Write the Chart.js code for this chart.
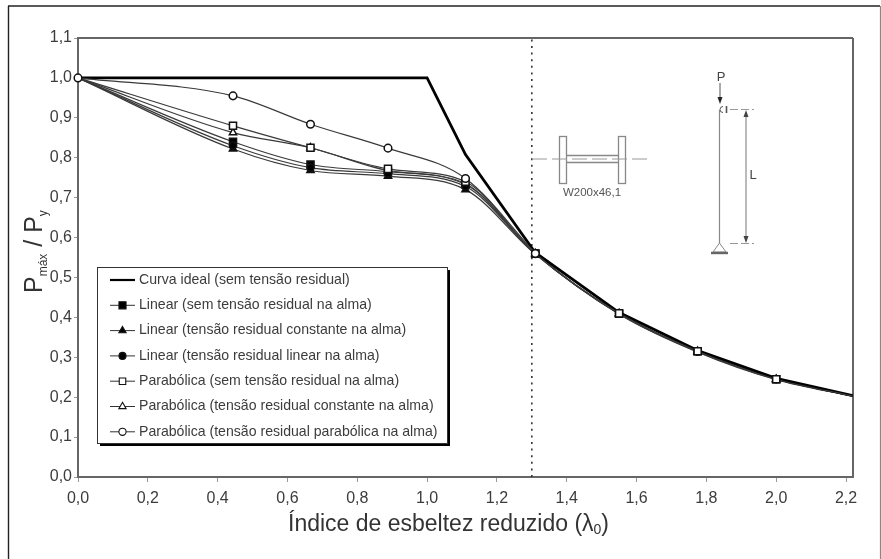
<!DOCTYPE html>
<html><head><meta charset="utf-8">
<style>html,body{margin:0;padding:0;background:#fff}#w{width:881px;height:559px;position:relative}</style>
<script src="https://cdn.jsdelivr.net/npm/chart.js@4/dist/chart.umd.min.js"></script>
</head><body><div id="w"><canvas id="c" width="881" height="559"></canvas></div>
<script>
const xIdeal = [0, 1.0, 1.11, 1.31, 1.55, 1.775, 2.0, 2.22];
const yIdeal = [1, 1, 0.808, 0.562, 0.412, 0.317, 0.247, 0.204];
const xCurves = [0, 0.444, 0.666, 0.888, 1.11, 1.31, 1.55, 1.775, 2.0, 2.22];
const linearNone = [1, 0.84, 0.783, 0.765, 0.733, 0.56, 0.409, 0.315, 0.245, 0.203];
const linearConst = [1, 0.822, 0.768, 0.754, 0.72, 0.558, 0.408, 0.313, 0.244, 0.202];
const linearLin = [1, 0.83, 0.775, 0.76, 0.728, 0.559, 0.409, 0.314, 0.245, 0.203];
const parabNone = [1, 0.88, 0.825, 0.772, 0.74, 0.56, 0.41, 0.315, 0.245, 0.203];
const parabConst = [1, 0.863, 0.825, 0.768, 0.735, 0.56, 0.41, 0.315, 0.245, 0.203];
const parabPar = [1, 0.955, 0.884, 0.824, 0.748, 0.56];
const xDivider = [1.3, 1.3];
const yDivider = [0, 1.1];
const seriesLabels = [
  'Curva ideal (sem tensão residual)',
  'Linear (sem tensão residual na alma)',
  'Linear (tensão residual constante na alma)',
  'Linear (tensão residual linear na alma)',
  'Parabólica (sem tensão residual na alma)',
  'Parabólica (tensão residual constante na alma)',
  'Parabólica (tensão residual parabólica na alma)'
];
const yTitleMain = 'P', yTitleSub1 = 'máx', yTitleSep = ' / ', yTitleSub2 = 'y';
const xTitleMain = 'Índice de esbeltez reduzido (λ', xTitleSub = '0', xTitleEnd = ')';
const sectionLabel = 'W200x46,1', loadLabel = 'P', lengthLabel = 'L';

const FONT = '"Liberation Sans", Arial, sans-serif';
const TXT = '#3c3c3c', LINE = '#3a3a3a';
const pts = (xs, ys) => ys.map((y, i) => ({x: xs[i], y}));
// The source plot shows no marker on the start or on the end of the squares' and triangles' curves.
const curve = (label, ys, style, fill, radius, keepFirst) => ({
  label, data: pts(xCurves, ys), borderColor: LINE, borderWidth: 1.2,
  cubicInterpolationMode: 'monotone', pointStyle: style, clip: false,
  pointRadius: c => ((c.dataIndex === 0 && !keepFirst) || xCurves[c.dataIndex] > 2.2) ? 0 : radius,
  pointBackgroundColor: fill, pointBorderColor: '#111', pointBorderWidth: 1.5
});
// Chart.js paints the first dataset on top
const datasets = [
  curve(seriesLabels[6], parabPar, 'circle', '#fff', 3.8, true),
  curve(seriesLabels[4], parabNone, 'rect', '#fff', 5),
  {label: seriesLabels[0], data: pts(xIdeal, yIdeal), borderColor: '#000', borderWidth: 2.8, pointRadius: 0, tension: 0},
  curve(seriesLabels[5], parabConst, 'triangle', '#fff', 4.2),
  curve(seriesLabels[3], linearLin, 'circle', '#000', 3.5),
  curve(seriesLabels[2], linearConst, 'triangle', '#000', 4.2),
  curve(seriesLabels[1], linearNone, 'rect', '#000', 5),
  {label: 'divider', data: pts(xDivider, yDivider), borderColor: '#333', borderWidth: 1.6, borderDash: [2, 4.6], pointRadius: 0, tension: 0}
];
const legendRows = [
  {s: null},
  {s: 'rect', f: '#000', r: 5},
  {s: 'triangle', f: '#000', r: 4.2},
  {s: 'circle', f: '#000', r: 3.5},
  {s: 'rect', f: '#fff', r: 4.6},
  {s: 'triangle', f: '#fff', r: 4.2},
  {s: 'circle', f: '#fff', r: 3.6}
];

function seg(ctx, a, b, c, d) { ctx.beginPath(); ctx.moveTo(a, b); ctx.lineTo(c, d); ctx.stroke(); }
function arrow(ctx, x, y, dir) {
  ctx.beginPath(); ctx.moveTo(x, y); ctx.lineTo(x - 2.5, y - dir * 7); ctx.lineTo(x + 2.5, y - dir * 7); ctx.closePath(); ctx.fill();
}

const decor = {
  id: 'decor',
  beforeDatasetsDraw(chart) {
    const {ctx, chartArea: a} = chart;
    ctx.save();
    ctx.strokeStyle = '#222'; ctx.lineWidth = 1.4;
    seg(ctx, 8.5, 559, 8.5, 6); seg(ctx, 8, 6, 880, 6);
    ctx.strokeStyle = '#888'; ctx.lineWidth = 1.2; seg(ctx, 880.5, 6, 880.5, 559);
    ctx.strokeStyle = '#666'; ctx.lineWidth = 2;
    seg(ctx, a.left, a.top, a.right, a.top); seg(ctx, a.right, a.top, a.right, a.bottom);
    ctx.restore();
  },
  afterDatasetsDraw(chart) {
    const {ctx} = chart;
    ctx.save();
    // I-section sketch
    ctx.strokeStyle = '#888'; ctx.lineWidth = 1.3;
    ctx.strokeRect(559.5, 136.5, 7, 47); ctx.strokeRect(618.5, 136.5, 7, 47);
    seg(ctx, 566, 155.5, 618, 155.5); seg(ctx, 566, 162.5, 618, 162.5);
    ctx.strokeStyle = '#999'; ctx.lineWidth = 1; ctx.setLineDash([15, 5]);
    seg(ctx, 532, 159, 652, 159); ctx.setLineDash([]);
    ctx.fillStyle = '#555'; ctx.font = '11.5px ' + FONT; ctx.textAlign = 'center'; ctx.textBaseline = 'middle';
    ctx.fillText(sectionLabel, 592, 193);
    // column sketch
    ctx.fillStyle = '#444'; ctx.font = '13px ' + FONT;
    ctx.fillText(loadLabel, 721, 77);
    ctx.fillText(lengthLabel, 753, 175);
    ctx.strokeStyle = '#555'; ctx.lineWidth = 1;
    seg(ctx, 720, 83, 720, 100); ctx.fillStyle = '#222'; arrow(ctx, 720, 104, 1);
    ctx.strokeStyle = '#888'; ctx.lineWidth = 1.2; seg(ctx, 719.5, 110, 719.5, 243);
    ctx.strokeStyle = '#555'; ctx.lineWidth = 1.6; seg(ctx, 726.5, 106, 726.5, 113);
    ctx.lineWidth = 1; ctx.beginPath(); ctx.arc(723, 109.5, 3, Math.PI * 0.5, Math.PI * 1.5); ctx.stroke();
    ctx.strokeStyle = '#999'; ctx.setLineDash([8, 3]); seg(ctx, 730, 109.5, 754, 109.5); seg(ctx, 730, 243.5, 754, 243.5); ctx.setLineDash([]);
    ctx.strokeStyle = '#777'; seg(ctx, 746, 112, 746, 241);
    ctx.fillStyle = '#444'; arrow(ctx, 746, 110, -1); arrow(ctx, 746, 243, 1);
    ctx.strokeStyle = '#888'; ctx.beginPath(); ctx.moveTo(719.5, 243); ctx.lineTo(713, 252); ctx.lineTo(726, 252); ctx.closePath(); ctx.stroke();
    ctx.strokeStyle = '#666'; ctx.lineWidth = 2.4; seg(ctx, 711, 253, 728, 253);
    // legend box
    const L = 97, T = 267, R = 447, B = 443;
    ctx.fillStyle = '#000'; ctx.fillRect(L + 3, T + 3, R - L, B - T);
    ctx.fillStyle = '#fff'; ctx.fillRect(L, T, R - L, B - T);
    ctx.strokeStyle = '#333'; ctx.lineWidth = 1; ctx.strokeRect(L + .5, T + .5, R - L, B - T);
    seriesLabels.forEach((label, i) => {
      const y = 280 + i * 25.3, row = legendRows[i];
      ctx.strokeStyle = i === 0 ? '#000' : '#333'; ctx.lineWidth = i === 0 ? 2.2 : 1;
      seg(ctx, 110, y, 135, y);
      if (row.s) {
        ctx.fillStyle = row.f; ctx.strokeStyle = '#111'; ctx.lineWidth = 1.1;
        Chart.helpers.drawPoint(ctx, {pointStyle: row.s, radius: row.r, rotation: 0, borderWidth: 1.1}, 122.5, y);
      }
      ctx.fillStyle = TXT; ctx.font = '14.1px ' + FONT; ctx.textAlign = 'left'; ctx.textBaseline = 'middle';
      ctx.fillText(label, 139, y);
    });
    // x axis title
    ctx.fillStyle = '#333'; ctx.textAlign = 'left'; ctx.textBaseline = 'alphabetic';
    ctx.font = '23px ' + FONT;
    let x = 288; const by = 531;
    ctx.fillText(xTitleMain, x, by); x += ctx.measureText(xTitleMain).width;
    ctx.font = '14px ' + FONT; ctx.fillText(xTitleSub, x, by + 3); x += ctx.measureText(xTitleSub).width;
    ctx.font = '23px ' + FONT; ctx.fillText(xTitleEnd, x, by);
    // y axis title
    ctx.save(); ctx.translate(42, 293); ctx.rotate(-Math.PI / 2);
    let p = 0;
    ctx.font = '25px ' + FONT; ctx.fillText(yTitleMain, p, 0); p += ctx.measureText(yTitleMain).width;
    ctx.font = '12px ' + FONT; ctx.fillText(yTitleSub1, p, 5); p += ctx.measureText(yTitleSub1).width;
    ctx.font = '25px ' + FONT; ctx.fillText(yTitleSep, p, 0); p += ctx.measureText(yTitleSep).width;
    ctx.fillText(yTitleMain, p, 0); p += ctx.measureText(yTitleMain).width;
    ctx.font = '12px ' + FONT; ctx.fillText(yTitleSub2, p, 5);
    ctx.restore();
    ctx.restore();
  }
};

new Chart(document.getElementById('c'), {
  type: 'line',
  data: {datasets},
  plugins: [decor],
  options: {
    responsive: false, animation: false, parsing: false, normalized: true,
    layout: {padding: {left: 0, top: 38, right: 28, bottom: 0}},
    plugins: {legend: {display: false}, tooltip: {enabled: false}, title: {display: false}},
    scales: {
      x: {
        type: 'linear', min: 0, max: 2.22,
        afterFit(s) { s.height = 82; },
        border: {color: '#666', width: 2},
        grid: {drawOnChartArea: false, drawTicks: true, tickLength: 5, color: '#999', tickColor: '#999'},
        ticks: {stepSize: 0.2, includeBounds: false, maxRotation: 0, autoSkip: false, color: TXT, padding: 7,
          font: {family: FONT, size: 16}, callback: v => v.toFixed(1).replace('.', ',')}
      },
      y: {
        min: 0, max: 1.1,
        afterFit(s) { s.width = 78; },
        border: {color: '#666', width: 2},
        grid: {drawOnChartArea: false, drawTicks: true, tickLength: 4, color: '#999', tickColor: '#999'},
        ticks: {stepSize: 0.1, autoSkip: false, color: TXT, padding: 2,
          font: {family: FONT, size: 16}, callback: v => v.toFixed(1).replace('.', ',')}
      }
    }
  }
});
</script></body></html>
